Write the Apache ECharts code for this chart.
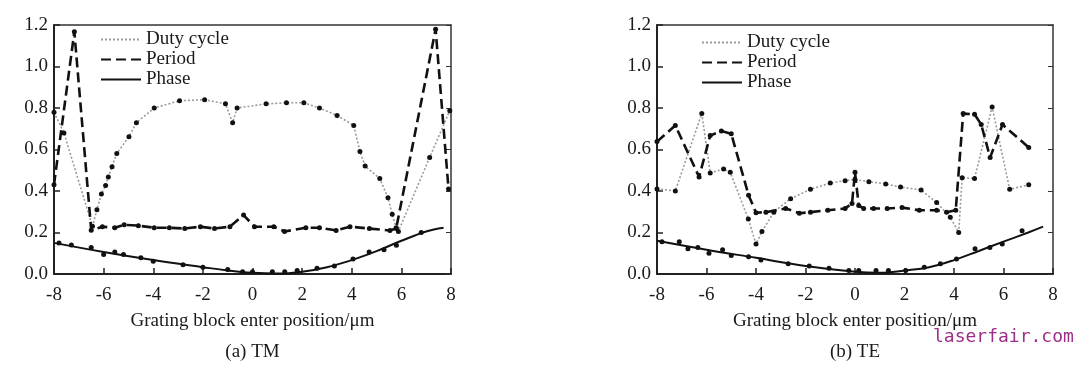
<!DOCTYPE html>
<html>
<head>
<meta charset="utf-8">
<script src="https://cdn.jsdelivr.net/npm/echarts@6/dist/echarts.min.js"></script>
<style>html,body{margin:0;padding:0;background:#fff;}#c{width:1080px;height:367px;}</style>
</head>
<body>
<div id="c"></div>
<script>
// ---- data (x in µm, y value) ----
var xTicks = [-8, -6, -4, -2, 0, 2, 4, 6, 8];
var yTicks = [0, 0.2, 0.4, 0.6, 0.8, 1.0, 1.2];
var seriesNames = ['Duty cycle', 'Period', 'Phase'];
var panelTitles = ['(a) TM', '(b) TE'];
var axisTitle = 'Grating block enter position/\u03bcm';

// (a) TM
var dutyTM = [[-8,0.78],[-7.6,0.68],[-6.45,0.23],[-6.27,0.31],[-6.09,0.386],[-5.92,0.426],[-5.81,0.468],[-5.66,0.517],[-5.47,0.581],[-4.98,0.662],[-4.68,0.729],[-3.96,0.80],[-2.94,0.835],[-1.93,0.84],[-1.09,0.82],[-0.8,0.729],[-0.62,0.80],[0.55,0.82],[1.37,0.825],[2.07,0.825],[2.7,0.80],[3.41,0.764],[4.08,0.716],[4.33,0.59],[4.54,0.52],[5.13,0.46],[5.46,0.367],[5.63,0.288],[5.79,0.223],[5.88,0.205],[7.14,0.562],[7.95,0.787]];
var periodTM = [[-8,0.43],[-7.18,1.167],[-6.5,0.211],[-6.05,0.228],[-5.55,0.223],[-5.17,0.237],[-4.6,0.233],[-3.96,0.223],[-3.35,0.223],[-2.73,0.219],[-2.1,0.228],[-1.53,0.219],[-0.91,0.228],[-0.36,0.284],[0.08,0.228],[0.86,0.228],[1.29,0.205],[2.15,0.223],[2.7,0.223],[3.37,0.21],[3.93,0.228],[4.71,0.219],[5.54,0.21],[5.79,0.219],[7.38,1.18],[7.9,0.41]];
var phaseCurveTM = [[-8,0.15],[-6,0.106],[-4,0.067],[-2,0.033],[-1,0.017],[0,0.006],[1,0.002],[2,0.011],[3,0.033],[4,0.067],[5,0.11],[6,0.16],[7,0.205],[7.7,0.223]];
var phasePtsTM = [[-7.8,0.15],[-7.3,0.14],[-6.5,0.128],[-6.0,0.094],[-5.55,0.106],[-5.2,0.094],[-4.5,0.078],[-4.0,0.061],[-2.8,0.044],[-2.0,0.033],[-1.0,0.022],[-0.4,0.011],[0,0.011],[0.8,0.011],[1.3,0.011],[1.8,0.017],[2.6,0.028],[3.3,0.039],[4.05,0.072],[4.7,0.106],[5.3,0.117],[5.8,0.139],[6.8,0.2]];

// (b) TE
var dutyTE = [[-8,0.41],[-7.26,0.40],[-6.19,0.773],[-5.85,0.487],[-5.31,0.506],[-5.04,0.49],[-4.31,0.265],[-4.0,0.144],[-3.76,0.205],[-3.28,0.298],[-2.6,0.363],[-1.8,0.408],[-1.0,0.438],[-0.4,0.45],[0.0,0.455],[0.56,0.445],[1.24,0.434],[1.84,0.419],[2.67,0.405],[3.3,0.344],[3.85,0.274],[4.19,0.20],[4.33,0.464],[4.83,0.46],[5.54,0.805],[6.25,0.408],[7.02,0.43]];
var periodTE = [[-8,0.638],[-7.26,0.716],[-6.3,0.468],[-5.85,0.667],[-5.4,0.689],[-5.0,0.676],[-4.3,0.38],[-4.0,0.295],[-3.6,0.298],[-2.8,0.316],[-2.25,0.293],[-1.8,0.298],[-1.1,0.307],[-0.4,0.316],[-0.12,0.34],[0,0.49],[0.15,0.33],[0.35,0.316],[0.75,0.316],[1.3,0.316],[1.9,0.32],[2.6,0.307],[3.3,0.307],[3.7,0.298],[4.07,0.307],[4.37,0.773],[4.83,0.77],[5.1,0.72],[5.46,0.562],[5.96,0.72],[7.02,0.61]];
var phaseCurveTE = [[-8,0.16],[-6,0.117],[-4,0.078],[-2,0.039],[0,0.011],[1,0.006],[2,0.017],[3,0.033],[4,0.067],[5,0.111],[6,0.156],[7,0.2],[7.6,0.228]];
var phasePtsTE = [[-7.8,0.156],[-7.1,0.156],[-6.75,0.122],[-6.35,0.128],[-5.9,0.1],[-5.35,0.117],[-5.0,0.089],[-4.3,0.083],[-3.8,0.067],[-2.7,0.05],[-1.85,0.039],[-1.05,0.028],[-0.25,0.017],[0.15,0.017],[0.85,0.017],[1.35,0.017],[2.05,0.017],[2.8,0.033],[3.45,0.05],[4.1,0.072],[4.85,0.122],[5.45,0.128],[5.95,0.144],[6.75,0.209]];

var panels = [
  {duty: dutyTM, period: periodTM, curve: phaseCurveTM, pts: phasePtsTM},
  {duty: dutyTE, period: periodTE, curve: phaseCurveTE, pts: phasePtsTE}
];

var FONT = 'Liberation Serif';
var TXT = '#1a1a1a';
var FS = 19;
var grids = [
  {left: 54, top: 25, width: 397, height: 249},
  {left: 657, top: 25, width: 396, height: 249}
];

var xAxes = [], yAxes = [], series = [], legends = [], graphics = [];
grids.forEach(function (g, i) {
  xAxes.push({
    type: 'value', gridIndex: i, min: xTicks[0], max: xTicks[xTicks.length - 1], interval: 2,
    axisLine: {lineStyle: {color: '#222', width: 2}},
    axisTick: {inside: true, length: 6, lineStyle: {color: '#222', width: 1.5}},
    axisLabel: {color: TXT, fontFamily: FONT, fontSize: FS, margin: 12},
    splitLine: {show: false},
    name: axisTitle, nameLocation: 'middle', nameGap: 38,
    nameTextStyle: {color: TXT, fontFamily: FONT, fontSize: FS}
  });
  xAxes.push({
    type: 'value', gridIndex: i, position: 'top', min: xTicks[0], max: xTicks[xTicks.length - 1], interval: 2,
    axisLine: {onZero: false, lineStyle: {color: '#333', width: 1.5}},
    axisTick: {show: false}, axisLabel: {show: false}, splitLine: {show: false}
  });
  yAxes.push({
    type: 'value', gridIndex: i, min: yTicks[0], max: yTicks[yTicks.length - 1], interval: 0.2,
    axisLine: {show: true, onZero: false, lineStyle: {color: '#222', width: 2}},
    axisTick: {show: true, inside: true, length: 6, lineStyle: {color: '#222', width: 1.5}},
    axisLabel: {color: TXT, fontFamily: FONT, fontSize: FS, margin: 6,
      formatter: function (v) { return v.toFixed(1); }},
    splitLine: {show: false}
  });
  yAxes.push({
    type: 'value', gridIndex: i, position: 'right', min: yTicks[0], max: yTicks[yTicks.length - 1], interval: 0.2,
    axisLine: {show: true, onZero: false, lineStyle: {color: '#333', width: 1.5}},
    axisTick: {show: true, inside: true, length: 5, lineStyle: {color: '#333', width: 1}},
    axisLabel: {show: false}, splitLine: {show: false}
  });
  var p = panels[i];
  var xi = i * 2, yi = i * 2;
  series.push({
    name: seriesNames[0], type: 'line', xAxisIndex: xi, yAxisIndex: yi, data: p.duty,
    symbol: 'circle', symbolSize: 5, itemStyle: {color: '#111'},
    lineStyle: {color: '#9a9a9a', width: 1.6, type: [2, 2]}, z: 3
  });
  series.push({
    name: seriesNames[1], type: 'line', xAxisIndex: xi, yAxisIndex: yi, data: p.period,
    symbol: 'circle', symbolSize: 5, itemStyle: {color: '#111'},
    lineStyle: {color: '#111', width: 2.6, type: [10, 5]}, z: 4
  });
  series.push({
    name: seriesNames[2], type: 'line', xAxisIndex: xi, yAxisIndex: yi, data: p.curve,
    smooth: 0.4, symbol: 'none',
    lineStyle: {color: '#111', width: 2}, itemStyle: {color: '#111'}, z: 4
  });
  series.push({
    name: seriesNames[2], type: 'scatter', xAxisIndex: xi, yAxisIndex: yi, data: p.pts,
    symbol: 'circle', symbolSize: 5, itemStyle: {color: '#111', opacity: 1}, z: 5
  });
  legends.push({
    data: seriesNames, orient: 'vertical',
    left: i === 0 ? 95 : 696, top: i === 0 ? 25 : 28,
    itemWidth: 40, itemHeight: 18, itemGap: 1,
    selectedMode: false,
    itemStyle: {opacity: 0},
    textStyle: {color: TXT, fontFamily: FONT, fontSize: FS}
  });
  graphics.push({
    type: 'text', x: g.left + g.width / 2, y: 352,
    style: {text: panelTitles[i], fill: TXT, font: FS + 'px "Liberation Serif"', textAlign: 'center', textVerticalAlign: 'middle'}
  });
});
graphics.push({
  type: 'text', x: 933, y: 337,
  style: {text: 'laserfair.com', fill: '#9c2f86', font: '18px "DejaVu Sans Mono"', textAlign: 'left', textVerticalAlign: 'middle'}
});

var chart = echarts.init(document.getElementById('c'), null, {renderer: 'canvas'});
chart.setOption({
  animation: false,
  backgroundColor: '#fff',
  grid: grids,
  xAxis: xAxes,
  yAxis: yAxes,
  legend: legends,
  series: series,
  graphic: graphics
});
</script>
</body>
</html>
